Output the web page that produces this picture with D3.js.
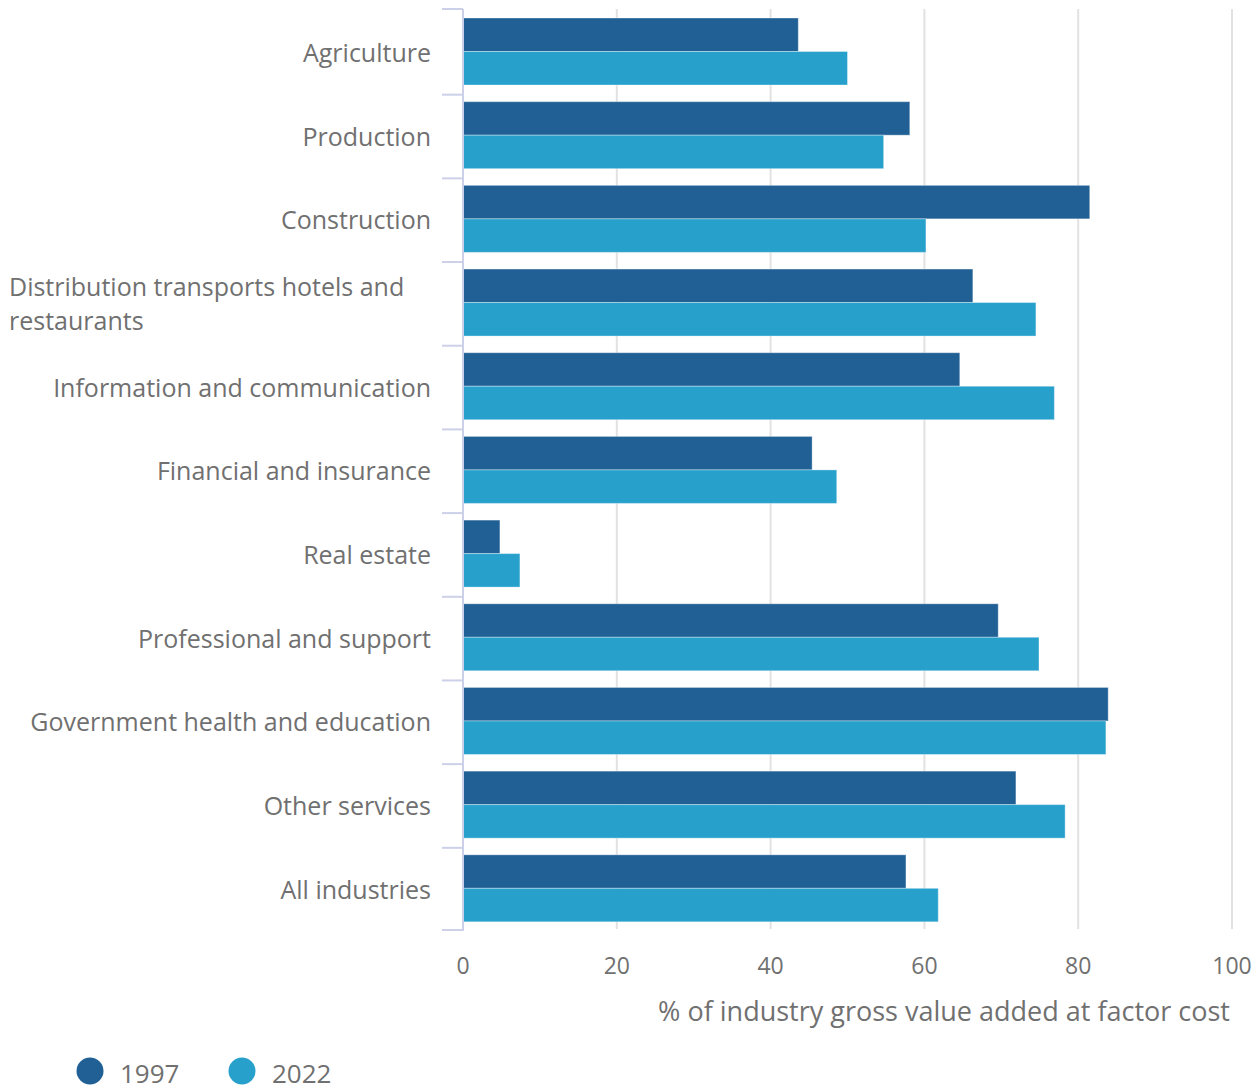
<!DOCTYPE html>
<html><head><meta charset="utf-8">
<script src="https://cdn.jsdelivr.net/npm/d3@7"></script>
<style>body{margin:0;background:#fff;}svg{display:block;font-family:"Open Sans",sans-serif;}</style>
</head><body>
<svg id="c" width="1260" height="1085"></svg>
<script>
const categories = ["Agriculture","Production","Construction","Distribution transports hotels and restaurants","Information and communication","Financial and insurance","Real estate","Professional and support","Government health and education","Other services","All industries"];
const series = ["1997","2022"];
const values1997 = [43.6,58.1,81.5,66.3,64.6,45.4,4.8,69.6,83.9,71.9,57.6];
const values2022 = [50.0,54.7,60.2,74.5,76.9,48.6,7.4,74.9,83.6,78.3,61.8];
const xTicks = [0,20,40,60,80,100];
const colors = ["#206095","#27a0cc"];
const xTitle = "% of industry gross value added at factor cost";

const svg = d3.select("#c");
const m = {left:463, right:1232, top:9, bottom:931};
const x = d3.scaleLinear().domain([0,100]).range([m.left, m.right]);
const y0 = d3.scaleBand().domain(categories).range([11, 931.5]);
const groupH = 67;
const ys = d3.scaleBand().domain(series).range([0, groupH]);

// gridlines
svg.append("g").selectAll("line").data(xTicks.filter(d=>d>0)).join("line")
  .attr("x1",d=>x(d)).attr("x2",d=>x(d)).attr("y1",m.top).attr("y2",m.bottom-2)
  .attr("stroke","#e2e2e2").attr("stroke-width",2);

// bars
const data = categories.map((c,i)=>({c, v:[values1997[i], values2022[i]]}));
const g = svg.append("g").selectAll("g").data(data).join("g")
  .attr("transform",d=>`translate(0,${y0(d.c) + 7})`);
g.selectAll("rect").data(d=>d.v.map((v,j)=>({s:series[j], v, j}))).join("rect")
  .attr("x",x(0)).attr("y",d=>ys(d.s)).attr("width",d=>x(d.v)-x(0)).attr("height",ys.bandwidth())
  .attr("fill",d=>colors[d.j]).attr("stroke","#ffffff").attr("stroke-opacity",0.35).attr("stroke-width",1);

// y axis line + ticks
const axisColor = "#ccd0e8";
svg.append("line").attr("x1",m.left).attr("x2",m.left).attr("y1",m.top).attr("y2",m.bottom)
  .attr("stroke",axisColor).attr("stroke-width",2);
const bounds = [m.top].concat(categories.slice(1).map(c=>y0(c))).concat([m.bottom-1]);
svg.append("g").selectAll("line").data(bounds).join("line")
  .attr("x1",442).attr("x2",m.left).attr("y1",d=>d).attr("y2",d=>d)
  .attr("stroke",axisColor).attr("stroke-width",2);

// category labels
const lbl = svg.append("g").attr("fill","#707070").attr("font-size",25);
categories.forEach(c=>{
  const cy = y0(c)+y0.bandwidth()/2;
  if (c.startsWith("Distribution")) {
    const t = lbl.append("text").attr("x",9).attr("y",cy-8);
    t.append("tspan").attr("x",9).text("Distribution transports hotels and");
    t.append("tspan").attr("x",9).attr("dy",34).text("restaurants");
  } else {
    lbl.append("text").attr("x",431).attr("y",cy+9).attr("text-anchor","end").text(c);
  }
});

// x ticks
svg.append("g").selectAll("text").data(xTicks).join("text")
  .attr("x",d=>x(d)).attr("y",974).attr("text-anchor","middle")
  .attr("fill","#707070").attr("font-size",23).text(d=>d);
svg.append("text").attr("x",1230).attr("y",1021).attr("text-anchor","end")
  .attr("fill","#707070").attr("font-size",27).text(xTitle);

// legend
const lx = [90, 242];
series.forEach((s,i)=>{
  svg.append("circle").attr("cx",lx[i]).attr("cy",1071).attr("r",13.5).attr("fill",colors[i]);
  svg.append("text").attr("x",lx[i]+30).attr("y",1083).attr("fill","#707070").attr("font-size",26).text(s);
});
</script>
</body></html>
